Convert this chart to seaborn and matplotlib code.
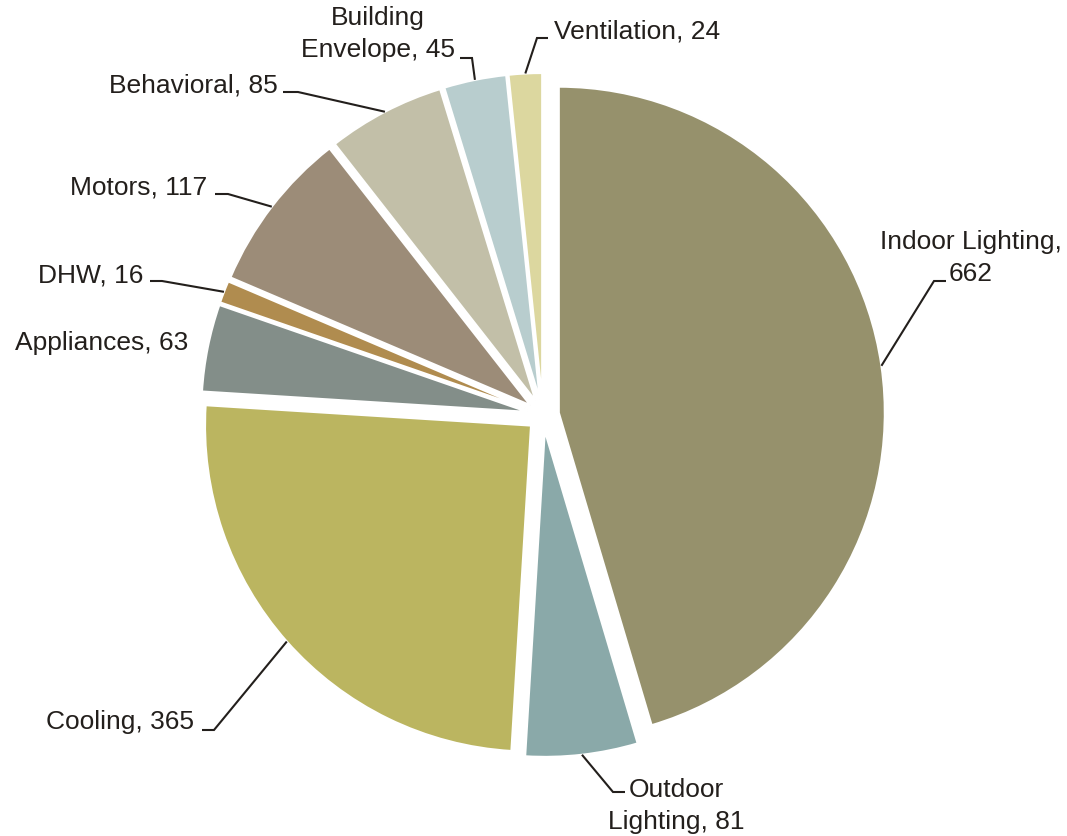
import numpy as np
import matplotlib
matplotlib.use("Agg")
import matplotlib.pyplot as plt
import seaborn as sns

# Savings by end use
categories = ["Indoor Lighting", "Outdoor Lighting", "Cooling", "Appliances", "DHW",
              "Motors", "Behavioral", "Building Envelope", "Ventilation"]
values = [662, 81, 365, 63, 16, 117, 85, 45, 24]
label_texts = ["Indoor Lighting,\n662", "Outdoor\nLighting, 81", "Cooling, 365",
               "Appliances, 63", "DHW, 16", "Motors, 117", "Behavioral, 85",
               "Building\nEnvelope, 45", "Ventilation, 24"]
slice_colors = ["#96916C", "#8AA9A9", "#BBB560", "#838E89", "#B08C4F",
                "#9C8C78", "#C2BFA8", "#B8CDCE", "#DCD79F"]

# Label layout in pixel space: text centre, elbow of the leader, end of the stub
label_pos = [(971, 258), (676, 806), (120, 722), (102, 343), (91, 275),
             (139, 187), (193, 85), (378, 34), (637, 32)]
elbow_pos = [(934, 282), (613, 793), (214, 731), None, (162, 282),
             (228, 195), (298, 93), (472, 59), (537, 39)]
stub_end_x = [946, 625, 202, None, 150, 215, 283, 460, 548]

W, H = 1067, 837
CX, CY, R_PX = 543, 416, 326
TEXT_COLOR = "#231F1C"

sns.set_theme(style="white")
plt.rcParams["font.family"] = ["Liberation Sans", "DejaVu Sans"]

fig = plt.figure(figsize=(W / 100, H / 100), dpi=100)
ax = fig.add_axes([0, 0, 1, 1])


def to_data(px, py):
    return (px - CX) / R_PX, (CY - py) / R_PX


palette = sns.color_palette(slice_colors)
wedges, _ = ax.pie(values, colors=palette, startangle=90, counterclock=False,
                   explode=[0.049] * len(values), radius=1.0,
                   wedgeprops=dict(edgecolor="white", linewidth=1.5))

ax.set_xlim(-CX / R_PX, (W - CX) / R_PX)
ax.set_ylim((CY - H) / R_PX, CY / R_PX)
ax.set_aspect("auto")
ax.axis("off")

for w, txt, lp, ep, sx in zip(wedges, label_texts, label_pos, elbow_pos, stub_end_x):
    tx, ty = to_data(*lp)
    ax.text(tx, ty, txt, ha="center", va="center", fontsize=19,
            color=TEXT_COLOR, linespacing=1.45, multialignment="center")
    if ep is None:
        continue
    mid = np.deg2rad((w.theta1 + w.theta2) / 2)
    ax_, ay_ = w.center[0] + w.r * np.cos(mid), w.center[1] + w.r * np.sin(mid)
    exd, eyd = to_data(*ep)
    sxd, _ = to_data(sx, ep[1])
    ax.plot([ax_, exd, sxd], [ay_, eyd, eyd], color=TEXT_COLOR, lw=1.5,
            solid_capstyle="butt", solid_joinstyle="miter")

fig.savefig("out.png", dpi=100, facecolor="white")
